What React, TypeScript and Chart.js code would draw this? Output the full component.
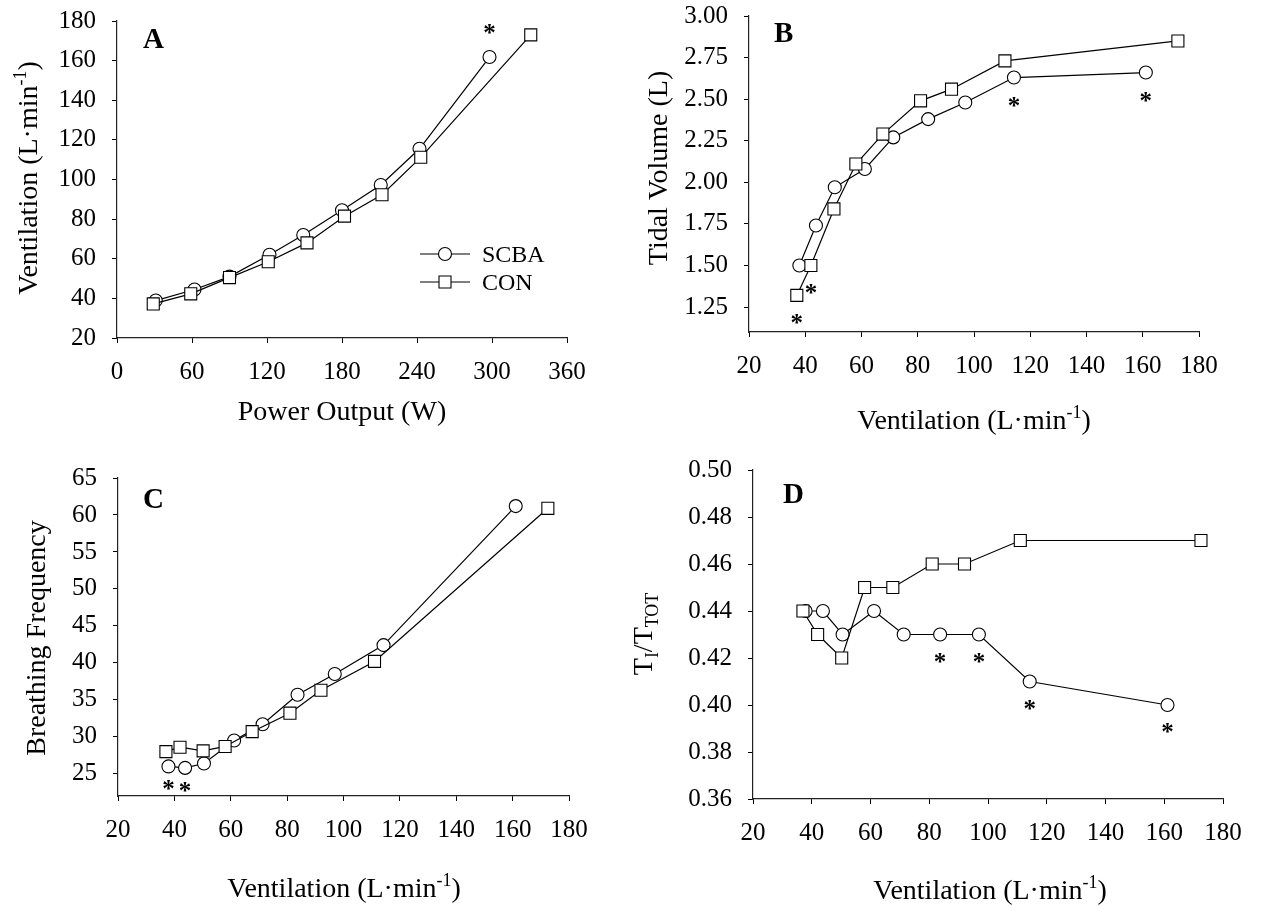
import React, { useEffect, useRef } from 'react';
import { Chart, registerables } from 'chart.js';

Chart.register(...registerables);

const FONT = '"Liberation Serif", "Times New Roman", serif';

// ---------- Panel A: Ventilation vs Power Output ----------
const A_SCBA_POWER = [31, 62, 90, 122, 149, 180, 211, 242, 298];
const A_SCBA_VE = [38.9, 44.5, 51, 62, 72, 84.5, 97.2, 115.5, 161.8];
const A_CON_POWER = [29, 59, 90, 121, 152, 182, 212, 243, 331];
const A_CON_VE = [37.2, 42.3, 50.5, 58.5, 68, 81.5, 92.3, 111.2, 173];
const A_X_TICKS = [0, 60, 120, 180, 240, 300, 360];
const A_Y_TICKS = [20, 40, 60, 80, 100, 120, 140, 160, 180];

// ---------- Ventilation (x for panels B, C, D) ----------
const SCBA_VE = [37.9, 43.8, 50.5, 61.2, 71.3, 83.7, 96.9, 114.2, 161.1];
const CON_VE = [37, 42, 50.2, 58, 67.6, 81, 92, 111, 172.5];
const VE_TICKS = [20, 40, 60, 80, 100, 120, 140, 160, 180];

// ---------- Panel B: Tidal volume ----------
const SCBA_VT = [1.5, 1.74, 1.97, 2.08, 2.27, 2.38, 2.48, 2.63, 2.66];
const CON_VT = [1.32, 1.5, 1.84, 2.11, 2.29, 2.49, 2.56, 2.73, 2.85];
const VT_TICKS = [1.25, 1.5, 1.75, 2.0, 2.25, 2.5, 2.75, 3.0];

// ---------- Panel C: Breathing frequency ----------
const SCBA_FB = [26.0, 25.8, 26.4, 29.5, 31.7, 35.7, 38.5, 42.4, 61.2];
const CON_FB = [28.0, 28.6, 28.1, 28.7, 30.7, 33.2, 36.3, 40.2, 60.9];
const FB_TICKS = [25, 30, 35, 40, 45, 50, 55, 60, 65];

// ---------- Panel D: Ti/Ttot ----------
const SCBA_TI = [0.44, 0.44, 0.43, 0.44, 0.43, 0.43, 0.43, 0.41, 0.4];
const CON_TI = [0.44, 0.43, 0.42, 0.45, 0.45, 0.46, 0.46, 0.47, 0.47];
const TI_TICKS = [0.36, 0.38, 0.4, 0.42, 0.44, 0.46, 0.48, 0.5];

// ---------- significance markers (point indices) ----------
const A_SIG_SCBA = [8];
const A_SIG_CON: number[] = [];
const B_SIG_SCBA = [7, 8];
const B_SIG_CON = [0, 1];
const C_SIG_SCBA = [0, 1];
const C_SIG_CON: number[] = [];
const D_SIG_SCBA = [5, 6, 7, 8];
const D_SIG_CON: number[] = [];

const LEGEND_LABELS = ['SCBA', 'CON'];

const W = 1263;
const H = 906;
const YW = 80;
const XH = 70;

type Part = [string, number]; // 0 normal, 1 sup, 2 sub

function zip(xs: number[], ys: number[]) {
  return xs.map((x, i) => ({ x, y: ys[i] }));
}

function drawRich(ctx: CanvasRenderingContext2D, parts: Part[], x: number, y: number, size: number, rotate: boolean) {
  ctx.save();
  ctx.translate(x, y);
  if (rotate) ctx.rotate(-Math.PI / 2);
  ctx.fillStyle = '#000';
  ctx.textAlign = 'left';
  ctx.textBaseline = 'alphabetic';
  const sizes = parts.map(([, k]) => (k ? size * 0.64 : size));
  const widths = parts.map(([t], i) => {
    ctx.font = `${sizes[i]}px ${FONT}`;
    return ctx.measureText(t).width;
  });
  const total = widths.reduce((a, b) => a + b, 0);
  let cx = -total / 2;
  parts.forEach(([t, k], i) => {
    ctx.font = `${sizes[i]}px ${FONT}`;
    const dy = k === 1 ? -size * 0.4 : k === 2 ? size * 0.22 : 0;
    ctx.fillText(t, cx, dy);
    cx += widths[i];
  });
  ctx.restore();
}

const VENT_TITLE: Part[] = [['Ventilation (L·min', 0], ['-1', 1], [')', 0]];

interface PanelDef {
  scba: { x: number; y: number }[];
  con: { x: number; y: number }[];
  xMin: number; xMax: number; xTicks: number[];
  yMin: number; yMax: number; yTicks: number[];
  yFmt: (v: number) => string;
  area: { l: number; t: number; r: number; b: number };
  xTitle: Part[]; xTitlePos: [number, number];
  yTitle: Part[]; yTitlePos: [number, number];
  letter: string; letterPos: [number, number];
  sigScba: number[]; sigCon: number[]; sigDy: number;
  legend?: boolean;
}

const PANELS: PanelDef[] = [
  {
    scba: zip(A_SCBA_POWER, A_SCBA_VE), con: zip(A_CON_POWER, A_CON_VE),
    xMin: 0, xMax: 360, xTicks: A_X_TICKS,
    yMin: 20, yMax: 180, yTicks: A_Y_TICKS, yFmt: (v) => String(v),
    area: { l: 117, t: 21, r: 567, b: 338 },
    xTitle: [['Power Output (W)', 0]], xTitlePos: [342, 420],
    yTitle: VENT_TITLE, yTitlePos: [37, 178],
    letter: 'A', letterPos: [143, 48],
    sigScba: A_SIG_SCBA, sigCon: A_SIG_CON, sigDy: -28, legend: true,
  },
  {
    scba: zip(SCBA_VE, SCBA_VT), con: zip(CON_VE, CON_VT),
    xMin: 20, xMax: 180, xTicks: VE_TICKS,
    yMin: 1.1, yMax: 3.0, yTicks: VT_TICKS, yFmt: (v) => v.toFixed(2),
    area: { l: 749, t: 16, r: 1199, b: 332 },
    xTitle: VENT_TITLE, xTitlePos: [974, 429],
    yTitle: [['Tidal Volume (L)', 0]], yTitlePos: [667, 168],
    letter: 'B', letterPos: [774, 42],
    sigScba: B_SIG_SCBA, sigCon: B_SIG_CON, sigDy: 24,
  },
  {
    scba: zip(SCBA_VE, SCBA_FB), con: zip(CON_VE, CON_FB),
    xMin: 20, xMax: 180, xTicks: VE_TICKS,
    yMin: 22, yMax: 65, yTicks: FB_TICKS, yFmt: (v) => String(v),
    area: { l: 118, t: 478, r: 569, b: 796 },
    xTitle: VENT_TITLE, xTitlePos: [344, 897],
    yTitle: [['Breathing Frequency', 0]], yTitlePos: [45, 638],
    letter: 'C', letterPos: [143, 508],
    sigScba: C_SIG_SCBA, sigCon: C_SIG_CON, sigDy: 19,
  },
  {
    scba: zip(SCBA_VE, SCBA_TI), con: zip(CON_VE, CON_TI),
    xMin: 20, xMax: 180, xTicks: VE_TICKS,
    yMin: 0.36, yMax: 0.5, yTicks: TI_TICKS, yFmt: (v) => v.toFixed(2),
    area: { l: 753, t: 470, r: 1223, b: 799 },
    xTitle: VENT_TITLE, xTitlePos: [990, 899],
    yTitle: [['T', 0], ['I', 2], ['/T', 0], ['TOT', 2]], yTitlePos: [652, 634],
    letter: 'D', letterPos: [783, 503],
    sigScba: D_SIG_SCBA, sigCon: D_SIG_CON, sigDy: 23,
  },
];

function drawMarker(ctx: CanvasRenderingContext2D, kind: string, x: number, y: number) {
  ctx.save();
  ctx.fillStyle = '#fff';
  ctx.strokeStyle = '#000';
  ctx.lineWidth = 1.1;
  ctx.beginPath();
  if (kind === 'circle') ctx.arc(x, y, 6.5, 0, Math.PI * 2);
  else ctx.rect(x - 6, y - 6, 12, 12);
  ctx.fill();
  ctx.stroke();
  ctx.restore();
}

function buildConfig(p: PanelDef): any {
  const decor = {
    id: 'decor',
    afterDraw(chart: any) {
      const ctx: CanvasRenderingContext2D = chart.ctx;
      drawRich(ctx, p.xTitle, p.xTitlePos[0], p.xTitlePos[1], 28, false);
      drawRich(ctx, p.yTitle, p.yTitlePos[0], p.yTitlePos[1], 28, true);
      ctx.save();
      ctx.fillStyle = '#000';
      ctx.font = `bold 29px ${FONT}`;
      ctx.textAlign = 'left';
      ctx.textBaseline = 'alphabetic';
      ctx.fillText(p.letter, p.letterPos[0], p.letterPos[1]);
      // asterisks
      ctx.font = `bold 25px ${FONT}`;
      ctx.textAlign = 'center';
      const sigs: [number, number[]][] = [[0, p.sigScba], [1, p.sigCon]];
      sigs.forEach(([ds, idxs]) => {
        const meta = chart.getDatasetMeta(ds);
        idxs.forEach((i) => {
          const el = meta.data[i];
          if (!el) return;
          ctx.fillText('*', el.x, el.y + p.sigDy + 12);
        });
      });
      ctx.restore();
      if (p.legend) {
        const rows: [string, string, number][] = [[LEGEND_LABELS[0], 'circle', 254], [LEGEND_LABELS[1], 'rect', 282]];
        rows.forEach(([label, kind, y]) => {
          ctx.save();
          ctx.strokeStyle = '#000';
          ctx.lineWidth = 1.2;
          ctx.beginPath();
          ctx.moveTo(420, y);
          ctx.lineTo(470, y);
          ctx.stroke();
          ctx.restore();
          drawMarker(ctx, kind, 445, y);
          ctx.save();
          ctx.fillStyle = '#000';
          ctx.font = `24px ${FONT}`;
          ctx.textAlign = 'left';
          ctx.textBaseline = 'alphabetic';
          ctx.fillText(label, 482, y + 8);
          ctx.restore();
        });
      }
    },
  };

  const tickFont = { family: FONT, size: 25 };
  const grid = { display: true, drawOnChartArea: false, drawTicks: true, tickLength: 5, color: '#000', lineWidth: 1 };
  const border = { display: true, color: '#222', width: 1.2 };
  const common = {
    borderColor: '#000',
    borderWidth: 1.2,
    pointBackgroundColor: '#fff',
    pointBorderColor: '#000',
    pointBorderWidth: 1.1,
    fill: false,
    tension: 0,
    clip: false,
  };

  return {
    type: 'line',
    data: {
      datasets: [
        { ...common, label: LEGEND_LABELS[0], data: p.scba, pointStyle: 'circle', pointRadius: 6.5, order: 1 },
        { ...common, label: LEGEND_LABELS[1], data: p.con, pointStyle: 'rect', pointRadius: 8.5, order: 0 },
      ],
    },
    options: {
      animation: false,
      responsive: false,
      devicePixelRatio: 1,
      events: [],
      layout: {
        padding: {
          left: p.area.l - YW,
          top: p.area.t,
          right: W - p.area.r,
          bottom: H - p.area.b - XH,
        },
      },
      plugins: { legend: { display: false }, tooltip: { enabled: false }, title: { display: false } },
      scales: {
        x: {
          type: 'linear',
          min: p.xMin,
          max: p.xMax,
          afterBuildTicks: (s: any) => { s.ticks = p.xTicks.map((v) => ({ value: v })); },
          afterFit: (s: any) => { s.height = XH; s.paddingLeft = 0; s.paddingRight = 0; s.paddingTop = 0; s.paddingBottom = 0; },
          grid,
          border,
          ticks: { font: tickFont, color: '#000', padding: 14, maxRotation: 0, autoSkip: false, callback: (v: any) => String(v) },
        },
        y: {
          type: 'linear',
          min: p.yMin,
          max: p.yMax,
          afterBuildTicks: (s: any) => { s.ticks = p.yTicks.map((v) => ({ value: v })); },
          afterFit: (s: any) => { s.width = YW; s.paddingTop = 0; s.paddingBottom = 0; s.paddingLeft = 0; s.paddingRight = 0; },
          grid,
          border,
          ticks: { font: tickFont, color: '#000', padding: 16, autoSkip: false, callback: (v: any) => p.yFmt(Number(v)) },
        },
      },
    },
    plugins: [decor],
  };
}

function Panel({ def }: { def: PanelDef }) {
  const ref = useRef<HTMLCanvasElement | null>(null);
  useEffect(() => {
    if (!ref.current) return;
    const chart = new Chart(ref.current, buildConfig(def));
    return () => chart.destroy();
  }, [def]);
  return <canvas ref={ref} width={W} height={H} style={{ position: 'absolute', left: 0, top: 0, width: W, height: H }} />;
}

export default function App() {
  return (
    <div style={{ position: 'absolute', left: 0, top: 0, width: W, height: H, background: '#fff', overflow: 'hidden' }}>
      {PANELS.map((d) => (
        <Panel key={d.letter} def={d} />
      ))}
    </div>
  );
}
